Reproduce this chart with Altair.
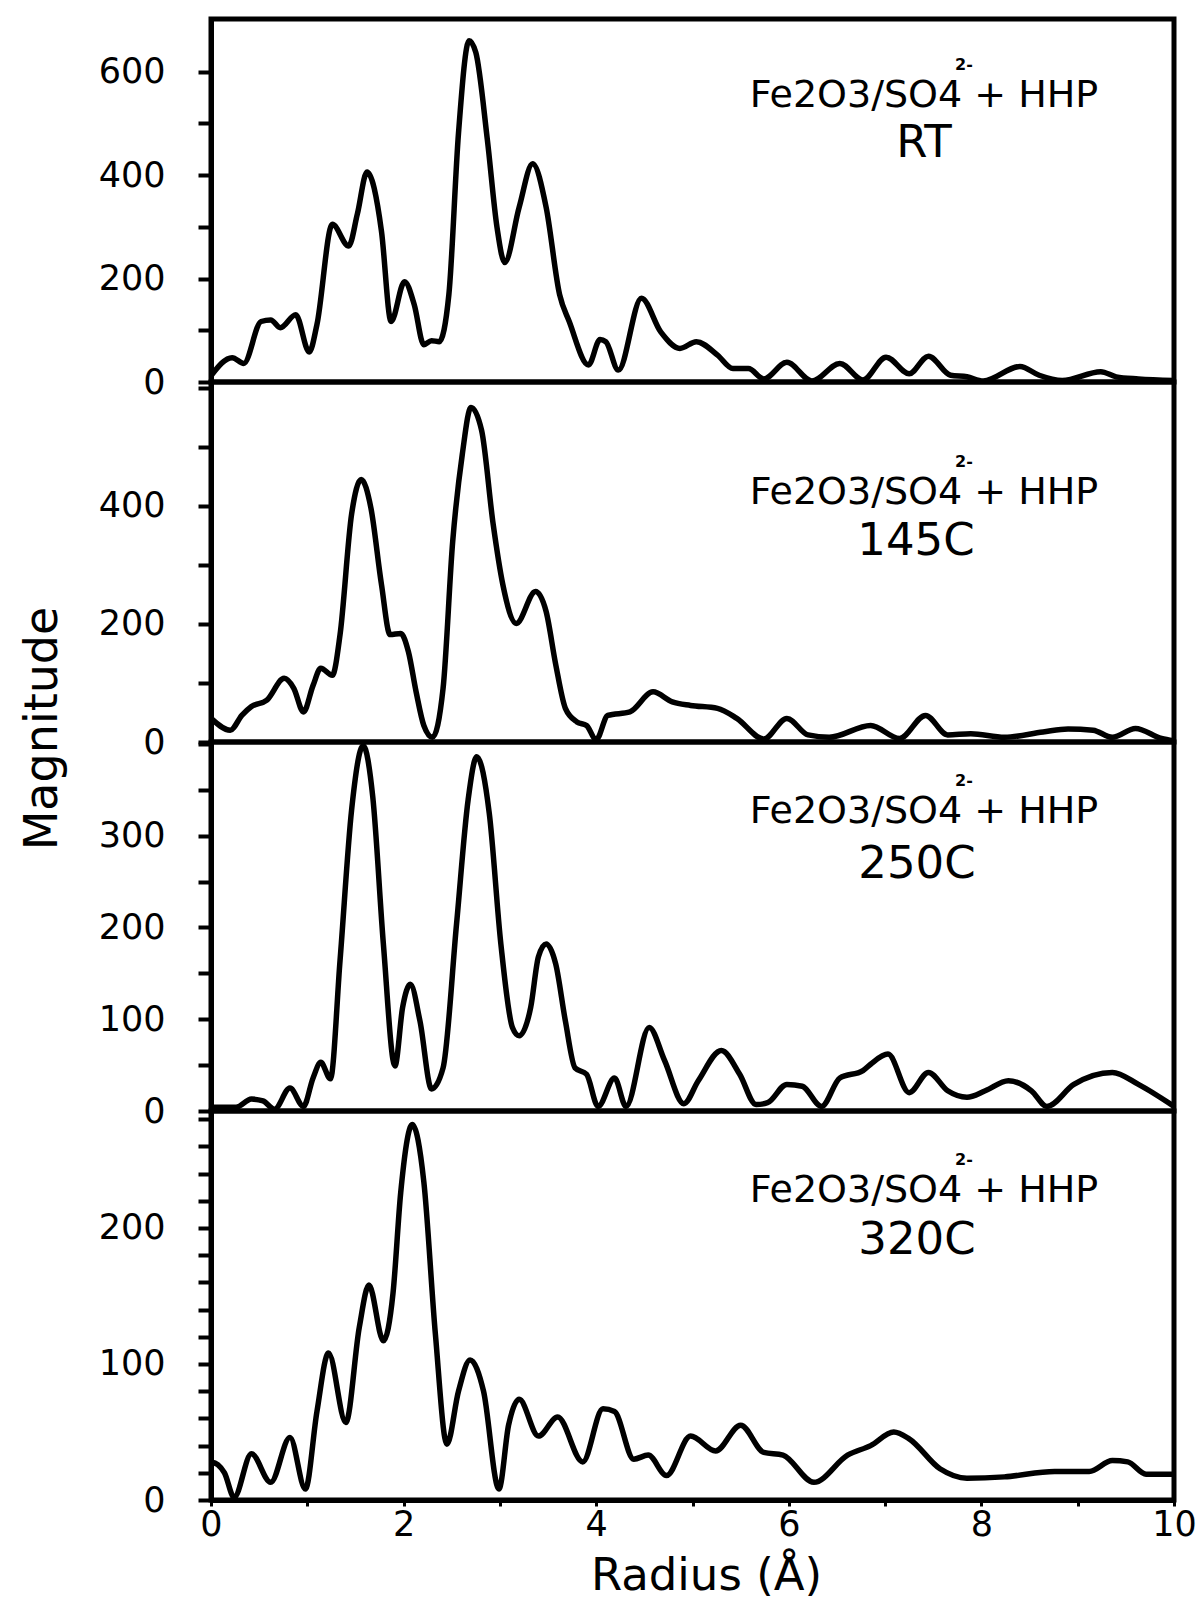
import altair as alt
import pandas as pd

FONT = "DejaVu Sans"

# ---- data ----
r_rt = [0.00, 0.22, 0.34, 0.52, 0.62, 0.72, 0.88, 1.02, 1.10, 1.26, 1.43, 1.52, 1.62, 1.77, 1.87,
        2.01, 2.11, 2.21, 2.29, 2.37, 2.47, 2.57, 2.68, 2.75, 2.87, 2.97, 3.05, 3.20, 3.34, 3.48,
        3.62, 3.72, 3.92, 4.04, 4.10, 4.23, 4.47, 4.67, 4.87, 5.04, 5.26, 5.42, 5.58, 5.74, 5.98,
        6.24, 6.53, 6.77, 7.01, 7.25, 7.45, 7.68, 7.85, 8.02, 8.40, 8.60, 8.84, 9.24, 9.40, 9.63, 10.0]
m_rt = [12, 47, 36, 117, 120, 105, 130, 58, 111, 305, 263, 325, 406, 292, 117,
        194, 150, 72, 80, 78, 169, 481, 660, 637, 468, 299, 231, 338, 422, 338,
        169, 117, 33, 82, 78, 23, 162, 97, 65, 78, 52, 26, 26, 6, 38,
        2, 36, 4, 48, 16, 50, 13, 10, 2, 30, 13, 3, 20, 10, 6, 3]

r_145 = [0.00, 0.20, 0.32, 0.42, 0.58, 0.76, 0.86, 0.96, 1.06, 1.14, 1.26, 1.34, 1.46, 1.56, 1.66,
         1.77, 1.86, 1.97, 2.05, 2.13, 2.21, 2.30, 2.41, 2.51, 2.61, 2.70, 2.81, 2.93, 3.03, 3.17,
         3.37, 3.48, 3.58, 3.68, 3.80, 3.90, 4.00, 4.12, 4.35, 4.59, 4.79, 4.98, 5.26, 5.46, 5.74,
         5.98, 6.20, 6.42, 6.85, 7.15, 7.42, 7.65, 7.89, 8.24, 8.64, 8.90, 9.16, 9.36, 9.60, 9.87, 10.0]
m_145 = [40, 20, 45, 60, 71, 108, 91, 51, 96, 125, 113, 182, 386, 445, 397,
         267, 182, 184, 153, 85, 28, 8, 91, 340, 488, 567, 528, 369, 267, 201,
         255, 221, 131, 57, 34, 28, 4, 45, 51, 85, 68, 62, 57, 40, 5,
         40, 12, 8, 28, 6, 45, 12, 14, 8, 17, 22, 20, 8, 23, 6, 2]

r_250 = [0.00, 0.26, 0.42, 0.54, 0.66, 0.82, 0.96, 1.06, 1.14, 1.24, 1.34, 1.46, 1.58, 1.68, 1.79,
         1.91, 1.99, 2.07, 2.17, 2.29, 2.41, 2.55, 2.67, 2.76, 2.89, 3.01, 3.13, 3.20, 3.32, 3.40,
         3.48, 3.58, 3.68, 3.78, 3.90, 4.02, 4.19, 4.31, 4.55, 4.71, 4.91, 5.06, 5.30, 5.49, 5.66,
         5.78, 5.98, 6.14, 6.34, 6.53, 6.77, 6.85, 7.03, 7.25, 7.45, 7.65, 7.85, 8.04, 8.28, 8.52,
         8.68, 8.96, 9.36, 9.63, 10.0]
m_250 = [4, 4, 13, 11, 2, 25, 5, 36, 53, 35, 164, 328, 398, 342, 182,
         49, 113, 138, 98, 24, 47, 204, 339, 386, 324, 182, 91, 82, 113, 168,
         182, 160, 98, 47, 40, 5, 36, 5, 91, 55, 8, 33, 66, 40, 7,
         9, 29, 27, 5, 36, 44, 51, 62, 20, 42, 22, 15, 22, 33, 22,
         5, 29, 42, 29, 5]

r_320 = [0.00, 0.07, 0.14, 0.24, 0.42, 0.62, 0.82, 0.98, 1.10, 1.22, 1.40, 1.54, 1.64, 1.79, 1.89,
         1.97, 2.09, 2.21, 2.33, 2.45, 2.57, 2.69, 2.83, 2.99, 3.09, 3.20, 3.40, 3.60, 3.86, 4.07,
         4.19, 4.39, 4.54, 4.73, 4.98, 5.24, 5.50, 5.74, 5.94, 6.26, 6.61, 6.85, 7.09, 7.25, 7.57,
         7.85, 8.24, 8.76, 9.12, 9.36, 9.52, 9.71, 10.0]
m_320 = [28, 26, 20, 2, 34, 13, 46, 8, 65, 108, 57, 127, 158, 117, 152,
         226, 276, 234, 122, 41, 80, 103, 80, 8, 55, 74, 47, 61, 28, 67,
         65, 30, 33, 18, 47, 36, 55, 35, 33, 13, 33, 40, 50, 45, 23,
         16, 17, 21, 21, 29, 28, 19, 19]

line1 = "Fe2O3/SO4 + HHP"
sup = "2-"
temps = ["RT", "145C", "250C", "320C"]

W = 963


def panel(r, m, ymax, ticks, lstep, lmax, h, temp, y1, y2, x2, bottom=False, ytitle=False):
    df = pd.DataFrame({"r": r, "m": m})
    xscale = alt.Scale(domain=[0, 10], nice=False, zero=False)
    if bottom:
        xenc = alt.X("r:Q", scale=xscale, title="Radius (Å)",
                     axis=alt.Axis(values=list(range(11)),
                                   labelExpr="datum.value % 2 == 0 ? datum.label : ''",
                                   tickSize=6, tickWidth=3, tickColor="black",
                                   domainColor="black", domainWidth=5,
                                   labelFont=FONT, labelFontSize=35, labelColor="black",
                                   labelPadding=1, labelOverlap=False, labelFlush=False,
                                   grid=False, titleFont=FONT, titleFontSize=45,
                                   titleFontWeight="normal", titleColor="black",
                                   titlePadding=11, titleX=495, titleAlign="center"))
    else:
        xenc = alt.X("r:Q", scale=xscale, axis=None)

    yaxis_kw = dict(values=ticks,
                    labelExpr=f"datum.value % {lstep} == 0 && datum.value <= {lmax} ? datum.label : ''",
                    tickSize=13, tickWidth=4, tickColor="black",
                    domainColor="black", domainWidth=5,
                    labelFont=FONT, labelFontSize=35, labelColor="black",
                    labelPadding=33, labelOverlap=False, labelFlush=False, grid=False)
    yscale = alt.Scale(domain=[0, ymax], nice=False, zero=True)
    if ytitle:
        yaxis_kw.update(titleFont=FONT, titleFontSize=46, titleFontWeight="normal",
                        titleColor="black", titleX=-169, titleY=346, titleAngle=270,
                        titleAlign="center", titleBaseline="middle")
        yenc = alt.Y("m:Q", scale=yscale, title="Magnitude", axis=alt.Axis(**yaxis_kw))
    else:
        yenc = alt.Y("m:Q", scale=yscale, title=None, axis=alt.Axis(**yaxis_kw))

    curve = alt.Chart(df).mark_line(color="black", strokeWidth=5.5, interpolate="monotone",
                                    clip=True).encode(x=xenc, y=yenc)

    tdf = pd.DataFrame({"a": [line1], "b": [temp], "c": [sup]})
    t1 = alt.Chart(tdf).mark_text(font=FONT, fontSize=38, color="black", align="center",
                                  baseline="middle").encode(
        x=alt.value(713), y=alt.value(y1), text="a:N")
    t2 = alt.Chart(tdf).mark_text(font=FONT, fontSize=45, color="black", align="center",
                                  baseline="middle").encode(
        x=alt.value(x2), y=alt.value(y2), text="b:N")
    t3 = alt.Chart(tdf).mark_text(font=FONT, fontSize=16, fontWeight="bold", color="black",
                                  align="center", baseline="middle").encode(
        x=alt.value(753), y=alt.value(y1 - 31), text="c:N")
    return alt.layer(curve, t1, t2, t3).properties(width=W, height=h)


p1 = panel(r_rt, m_rt, 702, list(range(0, 601, 100)), 200, 600, 363, temps[0], 77, 124, 713)
p2 = panel(r_145, m_145, 610, list(range(0, 601, 100)), 200, 400, 360, temps[1], 111, 159, 705,
           ytitle=True)
p3 = panel(r_250, m_250, 402, list(range(0, 401, 50)), 100, 300, 369, temps[2], 70, 122, 706)
p4 = panel(r_320, m_320, 286, list(range(0, 281, 20)), 100, 200, 389, temps[3], 80, 129, 706,
           bottom=True)

chart = alt.vconcat(p1, p2, p3, p4, spacing=0).resolve_scale(y="independent").properties(
    bounds="flush",
    padding={"left": 16, "top": 16, "right": 0, "bottom": 0},
    background="white",
).configure_view(stroke="black", strokeWidth=5)

chart.save("out.html", embed_options={"renderer": "svg", "actions": False})
